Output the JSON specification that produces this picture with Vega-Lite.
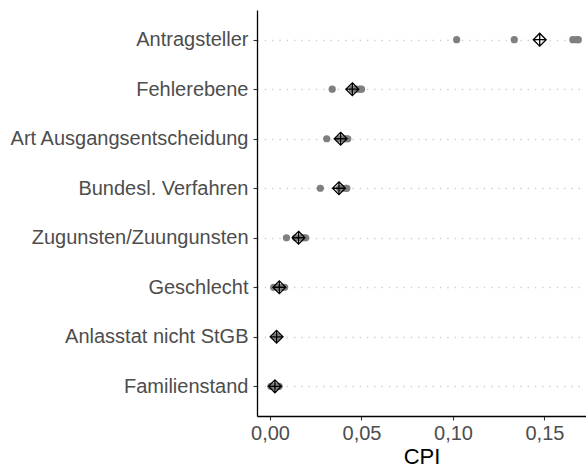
{
  "$schema": "https://vega.github.io/schema/vega-lite/v6.json",
  "width": 329,
  "height": 406,
  "autosize": {"type": "none"},
  "padding": {"left": 257, "top": 10, "right": 0, "bottom": 54},
  "config": {
    "view": {"stroke": null},
    "font": "Liberation Sans"
  },
  "data": {
    "values": [
      {"var": "Antragsteller", "cpi": 0.102},
      {"var": "Antragsteller", "cpi": 0.1335},
      {"var": "Antragsteller", "cpi": 0.1655},
      {"var": "Antragsteller", "cpi": 0.1675},
      {"var": "Antragsteller", "cpi": 0.1685},
      {"var": "Fehlerebene", "cpi": 0.034},
      {"var": "Fehlerebene", "cpi": 0.045},
      {"var": "Fehlerebene", "cpi": 0.047},
      {"var": "Fehlerebene", "cpi": 0.049},
      {"var": "Fehlerebene", "cpi": 0.05},
      {"var": "Art Ausgangsentscheidung", "cpi": 0.031},
      {"var": "Art Ausgangsentscheidung", "cpi": 0.038},
      {"var": "Art Ausgangsentscheidung", "cpi": 0.04},
      {"var": "Art Ausgangsentscheidung", "cpi": 0.0415},
      {"var": "Art Ausgangsentscheidung", "cpi": 0.0425},
      {"var": "Bundesl. Verfahren", "cpi": 0.0275},
      {"var": "Bundesl. Verfahren", "cpi": 0.038},
      {"var": "Bundesl. Verfahren", "cpi": 0.0395},
      {"var": "Bundesl. Verfahren", "cpi": 0.0415},
      {"var": "Bundesl. Verfahren", "cpi": 0.042},
      {"var": "Zugunsten/Zuungunsten", "cpi": 0.009},
      {"var": "Zugunsten/Zuungunsten", "cpi": 0.014},
      {"var": "Zugunsten/Zuungunsten", "cpi": 0.017},
      {"var": "Zugunsten/Zuungunsten", "cpi": 0.0185},
      {"var": "Zugunsten/Zuungunsten", "cpi": 0.0195},
      {"var": "Geschlecht", "cpi": 0.002},
      {"var": "Geschlecht", "cpi": 0.004},
      {"var": "Geschlecht", "cpi": 0.005},
      {"var": "Geschlecht", "cpi": 0.0065},
      {"var": "Geschlecht", "cpi": 0.008},
      {"var": "Anlasstat nicht StGB", "cpi": 0.0032},
      {"var": "Anlasstat nicht StGB", "cpi": 0.0034},
      {"var": "Anlasstat nicht StGB", "cpi": 0.0036},
      {"var": "Anlasstat nicht StGB", "cpi": 0.0038},
      {"var": "Anlasstat nicht StGB", "cpi": 0.004},
      {"var": "Familienstand", "cpi": 0.0005},
      {"var": "Familienstand", "cpi": 0.002},
      {"var": "Familienstand", "cpi": 0.003},
      {"var": "Familienstand", "cpi": 0.003},
      {"var": "Familienstand", "cpi": 0.005}
    ]
  },
  "encoding": {
    "y": {
      "field": "var",
      "type": "nominal",
      "sort": ["Antragsteller", "Fehlerebene", "Art Ausgangsentscheidung", "Bundesl. Verfahren", "Zugunsten/Zuungunsten", "Geschlecht", "Anlasstat nicht StGB", "Familienstand"],
      "scale": {"type": "point", "padding": 0.6},
      "axis": {
        "title": null,
        "domainColor": "#000000",
        "domainWidth": 1.3,
        "tickColor": "#333333",
        "tickSize": 4,
        "tickWidth": 1.1,
        "labelColor": "#4d4d4d",
        "labelFontSize": 20,
        "labelPadding": 5,
        "labelLimit": 0,
        "labelFont": "Liberation Sans",
        "grid": true,
        "gridColor": "#cccccc",
        "gridDash": [1.3, 6],
        "gridWidth": 1.3
      }
    },
    "x": {
      "field": "cpi",
      "type": "quantitative",
      "scale": {"domain": [-0.0071, 0.1727], "nice": false, "zero": false},
      "axis": {
        "title": "CPI",
        "titleFontSize": 22,
        "titleFontWeight": "normal",
        "titleColor": "#000000",
        "titleFont": "Liberation Sans",
        "titlePadding": 3,
        "values": [0, 0.05, 0.1, 0.15],
        "labelExpr": "replace(format(datum.value, '.2f'), '.', ',')",
        "domainColor": "#000000",
        "domainWidth": 1.3,
        "tickColor": "#333333",
        "tickSize": 4,
        "tickWidth": 1.1,
        "labelColor": "#4d4d4d",
        "labelFontSize": 20,
        "labelPadding": 3,
        "labelFont": "Liberation Sans",
        "grid": false
      }
    }
  },
  "layer": [
    {
      "mark": {"type": "point", "shape": "circle", "filled": true, "color": "#7f7f7f", "opacity": 1, "size": 52}
    },
    {
      "mark": {
        "type": "point",
        "shape": "M0,-1L1,0L0,1L-1,0Z M-1,0L1,0 M0,-1L0,1",
        "filled": false,
        "stroke": "#000000",
        "strokeWidth": 1.3,
        "opacity": 1,
        "size": 165
      },
      "encoding": {
        "x": {"aggregate": "mean", "field": "cpi", "type": "quantitative"}
      }
    }
  ]
}
